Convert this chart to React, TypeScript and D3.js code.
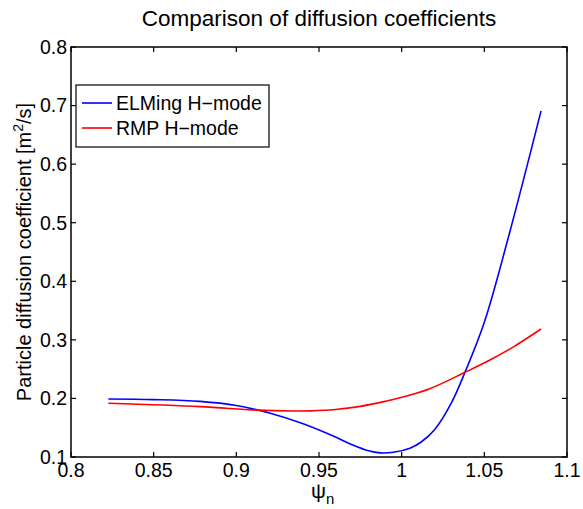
import React from "react";
import * as d3 from "d3";

const elmX = [0.8226, 0.85, 0.878, 0.90, 0.92, 0.94, 0.96, 0.97, 0.98, 0.987, 0.995, 1.005, 1.012, 1.02, 1.03, 1.0383, 1.05, 1.065, 1.0843];
const elmY = [0.199, 0.198, 0.195, 0.188, 0.175, 0.157, 0.134, 0.121, 0.1105, 0.107, 0.108, 0.115, 0.126, 0.147, 0.192, 0.2446, 0.33, 0.48, 0.691];
const rmpX = [0.8226, 0.878, 0.9123, 0.934, 0.945, 0.96, 0.975, 0.99, 0.999, 1.017, 1.0383, 1.0534, 1.0676, 1.0843];
const rmpY = [0.1917, 0.186, 0.180, 0.1785, 0.1787, 0.181, 0.1865, 0.195, 0.201, 0.2165, 0.2446, 0.2656, 0.288, 0.3185];
const xTicks = [0.8, 0.85, 0.9, 0.95, 1, 1.05, 1.1];
const yTicks = [0.1, 0.2, 0.3, 0.4, 0.5, 0.6, 0.7, 0.8];
const seriesNames = ["ELMing H\u2212mode", "RMP H\u2212mode"];
const seriesColors = ["#0000ff", "#ff0000"];

const W = 583, H = 509;
const L = 71, R = 567, T = 47, B = 457;
const FONT = "'Liberation Sans', Arial, Helvetica, sans-serif";

export default function App() {
  const x = d3.scaleLinear().domain([0.8, 1.1]).range([L, R]);
  const y = d3.scaleLinear().domain([0.1, 0.8]).range([B, T]);
  const line = d3.line<[number, number]>().x(d => x(d[0])).y(d => y(d[1])).curve(d3.curveCatmullRom.alpha(0.5));
  const series = [
    elmX.map((v, i) => [v, elmY[i]] as [number, number]),
    rmpX.map((v, i) => [v, rmpY[i]] as [number, number]),
  ];
  const tl = 5;
  return (
    <svg width={W} height={H} style={{ position: "absolute", left: 0, top: 0, background: "#fff" }} fontFamily={FONT}>
      <rect x={0} y={0} width={W} height={H} fill="#fff" />
      {series.map((s, i) => (
        <path key={i} d={line(s) || ""} fill="none" stroke={seriesColors[i]} strokeWidth={1.6} />
      ))}
      <rect x={L} y={T} width={R - L} height={B - T} fill="none" stroke="#000" strokeWidth={1.5} />
      {xTicks.map((t, i) => (
        <g key={"x" + i}>
          <line x1={x(t)} x2={x(t)} y1={B} y2={B - tl} stroke="#000" strokeWidth={1.2} />
          <line x1={x(t)} x2={x(t)} y1={T} y2={T + tl} stroke="#000" strokeWidth={1.2} />
          <text x={x(t)} y={477} fontSize={19.5} textAnchor="middle">{String(t)}</text>
        </g>
      ))}
      {yTicks.map((t, i) => (
        <g key={"y" + i}>
          <line x1={L} x2={L + tl} y1={y(t)} y2={y(t)} stroke="#000" strokeWidth={1.2} />
          <line x1={R} x2={R - tl} y1={y(t)} y2={y(t)} stroke="#000" strokeWidth={1.2} />
          <text x={67} y={y(t)} dy="0.35em" fontSize={19.5} textAnchor="end">{t.toFixed(1)}</text>
        </g>
      ))}
      <text x={(L + R) / 2} y={26} fontSize={22.5} textAnchor="middle">Comparison of diffusion coefficients</text>
      <text transform={`translate(31,${(T + B) / 2}) rotate(-90)`} fontSize={20} textAnchor="middle">
        Particle diffusion coefficient [m<tspan dy={-8} fontSize={14}>2</tspan><tspan dy={8}>/s]</tspan>
      </text>
      <text x={(L + R) / 2 - 8} y={498} fontSize={21}>
        {"\u03c8"}<tspan dy={6} fontSize={15}>n</tspan>
      </text>
      <rect x={76} y={85} width={193} height={62} fill="#fff" stroke="#000" strokeWidth={1.2} />
      {seriesNames.map((n, i) => (
        <g key={"l" + i}>
          <line x1={82} x2={112} y1={103 + i * 25} y2={103 + i * 25} stroke={seriesColors[i]} strokeWidth={1.6} />
          <text x={116} y={103 + i * 25} dy="0.35em" fontSize={19.5}>{n}</text>
        </g>
      ))}
    </svg>
  );
}
